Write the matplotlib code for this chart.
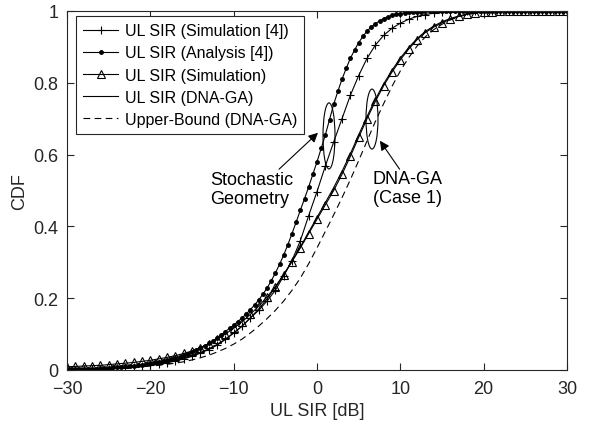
import matplotlib
matplotlib.use("Agg")
import matplotlib.pyplot as plt
import numpy as np
from matplotlib.patches import Ellipse

plt.rcParams['font.family'] = ['Liberation Sans', 'DejaVu Sans']

# SIR grid (dB), 1 dB for the simulations, 0.5 dB for the analysis curve
sir_db = np.arange(-30, 31, 1)
sir_db_fine = np.arange(-30, 30.5, 0.5)

# UL SIR (Simulation [4])
cdf_sim4 = [0.001, 0.001, 0.002, 0.002, 0.003, 0.004, 0.005, 0.006, 0.008, 0.010,
            0.013, 0.016, 0.020, 0.025, 0.031, 0.038, 0.047, 0.057, 0.069, 0.085,
            0.103, 0.122, 0.145, 0.166, 0.192, 0.222, 0.262, 0.305, 0.360, 0.430,
            0.497, 0.568, 0.635, 0.700, 0.765, 0.820, 0.868, 0.905, 0.932, 0.952,
            0.966, 0.977, 0.985, 0.990, 0.994, 0.996, 0.998, 0.999, 1.0, 1.0,
            1.0, 1.0, 1.0, 1.0, 1.0, 1.0, 1.0, 1.0, 1.0, 1.0,
            1.0]

# UL SIR (Analysis [4])
cdf_ana4 = [0.002, 0.002, 0.002, 0.003, 0.003, 0.003, 0.004, 0.004, 0.005, 0.005,
            0.006, 0.007, 0.008, 0.009, 0.010, 0.011, 0.012, 0.013, 0.015, 0.017,
            0.019, 0.021, 0.023, 0.025, 0.028, 0.031, 0.034, 0.037, 0.041, 0.045,
            0.050, 0.055, 0.061, 0.067, 0.074, 0.081, 0.089, 0.098, 0.107, 0.116,
            0.125, 0.135, 0.145, 0.156, 0.168, 0.181, 0.195, 0.211, 0.228, 0.248,
            0.270, 0.294, 0.320, 0.349, 0.380, 0.412, 0.445, 0.477, 0.510, 0.545,
            0.580, 0.617, 0.655, 0.697, 0.740, 0.776, 0.810, 0.840, 0.868, 0.891,
            0.912, 0.929, 0.944, 0.955, 0.965, 0.972, 0.979, 0.984, 0.988, 0.991,
            0.993, 0.995, 0.996, 0.997, 0.998, 0.998, 0.999, 0.999, 1.0, 1.0,
            1.0, 1.0, 1.0, 1.0, 1.0, 1.0, 1.0, 1.0, 1.0, 1.0,
            1.0, 1.0, 1.0, 1.0, 1.0, 1.0, 1.0, 1.0, 1.0, 1.0,
            1.0, 1.0, 1.0, 1.0, 1.0, 1.0, 1.0, 1.0, 1.0, 1.0,
            1.0]

# UL SIR (Simulation)
cdf_sim = [0.009, 0.010, 0.011, 0.012, 0.013, 0.015, 0.017, 0.019, 0.021, 0.024,
           0.027, 0.031, 0.035, 0.040, 0.046, 0.053, 0.062, 0.073, 0.086, 0.100,
           0.116, 0.134, 0.155, 0.178, 0.203, 0.232, 0.266, 0.302, 0.340, 0.380,
           0.420, 0.460, 0.500, 0.545, 0.595, 0.648, 0.700, 0.748, 0.792, 0.830,
           0.864, 0.894, 0.920, 0.940, 0.955, 0.967, 0.977, 0.985, 0.991, 0.995,
           0.997, 0.998, 0.999, 1.0, 1.0, 1.0, 1.0, 1.0, 1.0, 1.0,
           1.0]

# UL SIR (DNA-GA)
cdf_dnaga = [0.002, 0.002, 0.003, 0.003, 0.004, 0.005, 0.006, 0.008, 0.010, 0.012,
             0.015, 0.018, 0.022, 0.027, 0.033, 0.040, 0.049, 0.059, 0.071, 0.086,
             0.103, 0.122, 0.145, 0.170, 0.198, 0.230, 0.265, 0.303, 0.343, 0.384,
             0.425, 0.466, 0.508, 0.553, 0.602, 0.655, 0.706, 0.754, 0.797, 0.835,
             0.869, 0.898, 0.923, 0.943, 0.958, 0.970, 0.979, 0.986, 0.991, 0.995,
             0.997, 0.998, 0.999, 1.0, 1.0, 1.0, 1.0, 1.0, 1.0, 1.0,
             1.0]

# Upper-Bound (DNA-GA)
cdf_upper = [0.001, 0.001, 0.002, 0.002, 0.003, 0.004, 0.005, 0.006, 0.007, 0.009,
             0.011, 0.013, 0.016, 0.019, 0.023, 0.028, 0.034, 0.041, 0.050, 0.060,
             0.072, 0.086, 0.103, 0.122, 0.143, 0.166, 0.192, 0.222, 0.256, 0.296,
             0.340, 0.386, 0.432, 0.480, 0.530, 0.583, 0.638, 0.692, 0.742, 0.790,
             0.833, 0.870, 0.902, 0.928, 0.948, 0.963, 0.975, 0.984, 0.990, 0.994,
             0.996, 0.998, 0.999, 1.0, 1.0, 1.0, 1.0, 1.0, 1.0, 1.0,
             1.0]

axcol = '#262626'

fig = plt.figure(figsize=(5.92, 4.27), dpi=100)
ax = fig.add_axes([67 / 592, 1 - 371 / 427, 500 / 592, 359 / 427])

ax.plot(sir_db, cdf_sim4, '-', color='k', lw=0.8, marker='+', ms=6, mew=0.8,
        label='UL SIR (Simulation [4])')
ax.plot(sir_db_fine, cdf_ana4, '-', color='k', lw=0.8, marker='.', ms=5,
        label='UL SIR (Analysis [4])')
ax.plot(sir_db, cdf_sim, '-', color='k', lw=0.8, marker='^', ms=5.5, mew=0.8,
        mfc='none', label='UL SIR (Simulation)')
ax.plot(sir_db, cdf_dnaga, '-', color='k', lw=0.8, label='UL SIR (DNA-GA)')
ax.plot(sir_db, cdf_upper, '--', color='k', lw=0.8, dashes=(6, 4),
        label='Upper-Bound (DNA-GA)')

# ellipses + arrows + notes
ax.add_patch(Ellipse((1.44, 0.652), 1.44, 0.184, fill=False, ec='k', lw=0.8))
ax.add_patch(Ellipse((6.6, 0.699), 1.44, 0.167, fill=False, ec='k', lw=0.8))
ax.annotate('', xy=(0.36, 0.666), xytext=(-4.8, 0.554),
            arrowprops=dict(arrowstyle='-|>', color='k', lw=0.8, mutation_scale=14))
ax.annotate('', xy=(7.36, 0.645), xytext=(10.1, 0.553),
            arrowprops=dict(arrowstyle='-|>', color='k', lw=0.8, mutation_scale=14))
ax.text(-12.85, 0.504, 'Stochastic\nGeometry', fontsize=13, ha='left', va='center')
ax.text(6.72, 0.507, 'DNA-GA\n(Case 1)', fontsize=13, ha='left', va='center')

ax.set_xlim(-30, 30)
ax.set_ylim(0, 1)
ax.set_xticks([-30, -20, -10, 0, 10, 20, 30])
ax.set_yticks([0, 0.2, 0.4, 0.6, 0.8, 1])
ax.set_yticklabels(['0', '0.2', '0.4', '0.6', '0.8', '1'])
ax.tick_params(direction='in', top=True, right=True, length=5, width=0.8,
               labelsize=13, colors=axcol)
ax.tick_params(axis='x', pad=7.5)
ax.tick_params(axis='y', pad=6)
for s in ax.spines.values():
    s.set_color(axcol)
    s.set_linewidth(0.8)
ax.set_xlabel('UL SIR [dB]', fontsize=13, color=axcol, labelpad=3)
ax.set_ylabel('CDF', fontsize=13, color=axcol)

leg = ax.legend(loc='upper left', bbox_to_anchor=(0.018, 0.986), borderaxespad=0,
                fontsize=11.5, numpoints=1, handlelength=2.2, handletextpad=0.4,
                labelspacing=0.45, borderpad=0.45, fancybox=False, framealpha=1)
leg.get_frame().set_edgecolor(axcol)
leg.get_frame().set_linewidth(0.8)

fig.savefig('out.png', dpi=100)
